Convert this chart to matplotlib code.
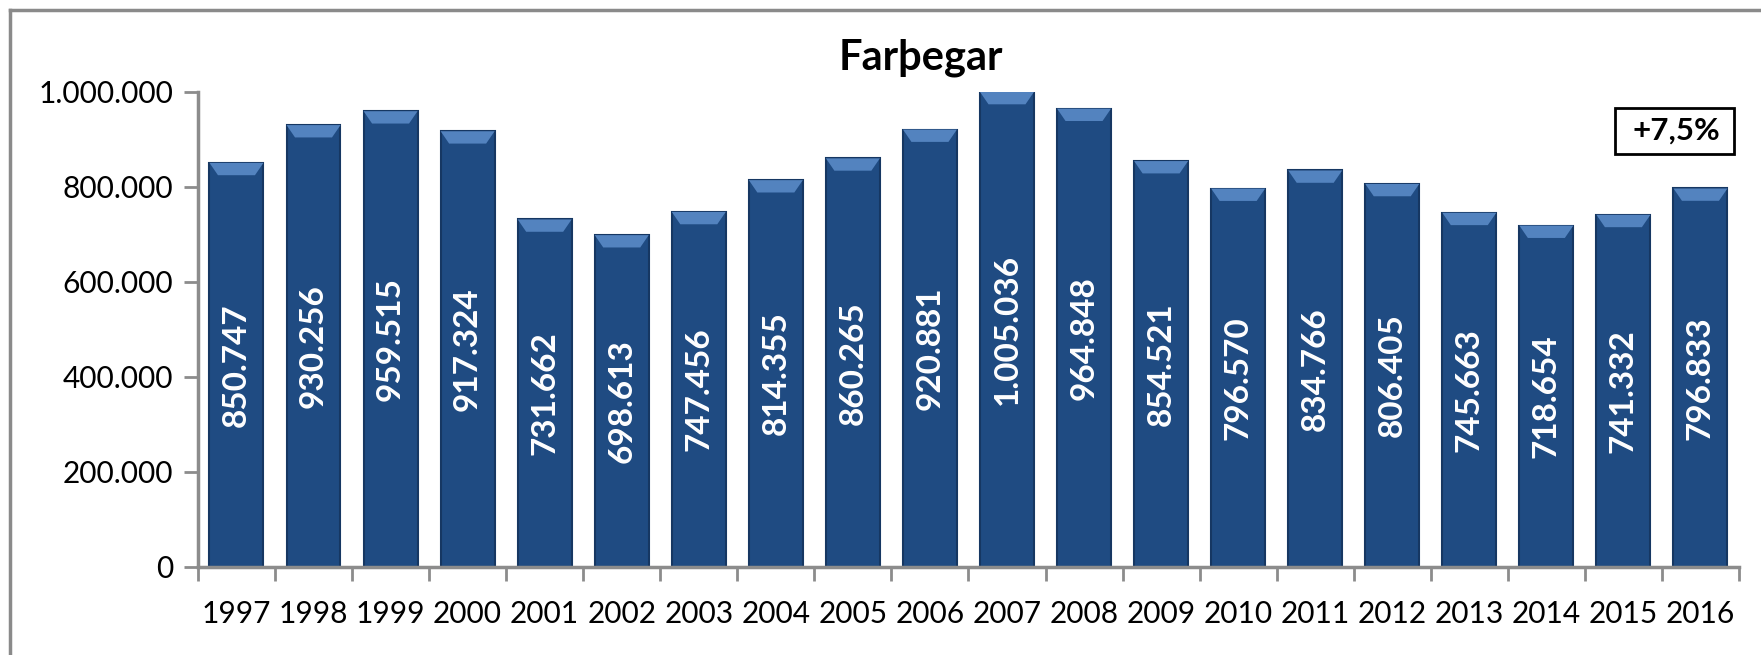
#!/usr/bin/env python3
"""Farþegar - passenger numbers per year, Excel-style bar chart."""

import matplotlib.pyplot as plt
from matplotlib.lines import Line2D
from matplotlib.patches import Polygon, Rectangle
from matplotlib.ticker import FuncFormatter, MultipleLocator
import numpy as np

years = [str(y) for y in range(1997, 2017)]
passengers = [850747, 930256, 959515, 917324, 731662, 698613, 747456, 814355,
              860265, 920881, 1005036, 964848, 854521, 796570, 834766, 806405,
              745663, 718654, 741332, 796833]
title = "Farþegar"
change_label = "+7,5%"

BAR = "#1f4b82"
BEVEL = "#5383bf"
AXIS = "#8c8c8c"
YMAX = 1_000_000

plt.rcParams["font.family"] = ["Lato", "DejaVu Sans"]


def dotted(v: float, _pos=None) -> str:
    return f"{int(v):,}".replace(",", ".")


def main() -> None:
    fig = plt.figure(figsize=(17.61, 6.55), dpi=100)
    ax = fig.add_axes([0.1124, 0.1344, 0.8751, 0.7252])

    x = np.arange(len(years))
    width = 0.70
    ax.bar(x, passengers, width=width, color=BAR, edgecolor="#163762",
           linewidth=1.5, zorder=2)

    # light bevel on top of each bar
    bev_h = 26000
    inset = 0.11
    for xi, v in zip(x, passengers):
        top = min(v, YMAX)
        left, right = xi - width / 2, xi + width / 2
        poly = Polygon([(left, top), (right, top), (right - inset, top - bev_h),
                        (left + inset, top - bev_h)], closed=True,
                       facecolor=BEVEL, edgecolor="none", zorder=3)
        ax.add_patch(poly)
        ax.text(xi, top / 2, dotted(v), rotation=90,
                ha="center", va="center", color="white", fontsize=24,
                fontweight="bold", zorder=4)

    ax.set_xlim(-0.5, len(years) - 0.5)
    ax.set_ylim(0, YMAX)
    ax.set_xticks(x)
    ax.set_xticklabels(years)
    ax.xaxis.set_minor_locator(MultipleLocator(1, offset=0.5))
    ax.tick_params(axis="x", which="major", length=0, pad=24, labelsize=21.5)
    ax.tick_params(axis="x", which="minor", length=10, width=2, color=AXIS)
    ax.yaxis.set_major_locator(MultipleLocator(200000))
    ax.yaxis.set_major_formatter(FuncFormatter(dotted))
    ax.tick_params(axis="y", length=10, width=2, color=AXIS, pad=8,
                   labelsize=21.5)

    for side in ("top", "right"):
        ax.spines[side].set_visible(False)
    for side in ("left", "bottom"):
        ax.spines[side].set_color(AXIS)
        ax.spines[side].set_linewidth(2.5)

    fig.text(921 / 1761, 1 - 58 / 655, title, ha="center", va="center",
             fontsize=30, fontweight="bold")

    # change box
    box = Rectangle((1615 / 1761, 1 - 154 / 655), 119 / 1761, 46 / 655,
                    transform=fig.transFigure, facecolor="white",
                    edgecolor="black", linewidth=2)
    fig.patches.append(box)
    fig.text(1720 / 1761, 1 - 131 / 655, change_label, ha="right",
             va="center", fontsize=22.5, fontweight="bold")

    # outer chart frame (left and top edges visible)
    fig.add_artist(Line2D([10 / 1761, 10 / 1761], [0, 1 - 10 / 655],
                          transform=fig.transFigure, color="#8a8a8a", lw=2.5))
    fig.add_artist(Line2D([10 / 1761, 1], [1 - 10 / 655, 1 - 10 / 655],
                          transform=fig.transFigure, color="#8a8a8a", lw=2.5))

    fig.savefig("out.png", dpi=100)
    plt.close(fig)


if __name__ == "__main__":
    main()
